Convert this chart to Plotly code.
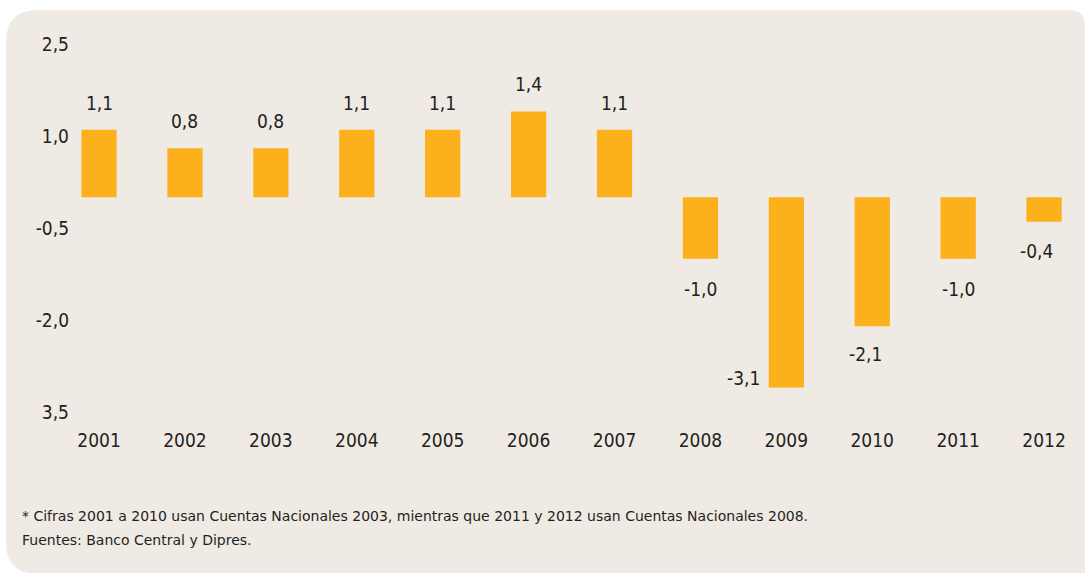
import plotly.graph_objects as go

years = ["2001", "2002", "2003", "2004", "2005", "2006", "2007", "2008", "2009", "2010", "2011", "2012"]
values = [1.1, 0.8, 0.8, 1.1, 1.1, 1.4, 1.1, -1.0, -3.1, -2.1, -1.0, -0.4]
ytick_vals = [2.5, 1.0, -0.5, -2.0, -3.5]
ytick_text = ["2,5", "1,0", "-0,5", "-2,0", "3,5"]
footnotes = [
    "* Cifras 2001 a 2010 usan Cuentas Nacionales 2003, mientras que 2011 y 2012 usan Cuentas Nacionales 2008.",
    "Fuentes: Banco Central y Dipres.",
]

W, H = 1085, 573
L, R, T, B = 70, 1075, 44, 412
BAR = "#fcb01b"
BG = "#f0eae4"
TXT = "#231f20"
FONT = "Liberation Sans Narrow, DejaVu Sans Condensed, Arial Narrow, sans-serif"
FSIZE = 19

def px(x):
    return (x - L) / (R - L)

def py(y):
    return (B - y) / (B - T)

# label offsets (pixels) for individual labels: (xshift, yshift)
label_shift = {"2009": (-43, 9), "2010": (-7, -28), "2012": (-8, -29)}

fig = go.Figure()
fig.add_trace(go.Bar(
    x=list(range(len(years))), y=values, marker_color=BAR, width=0.41,
    marker_line_width=0, hoverinfo="skip",
))

annotations = []
for i, (yr, v) in enumerate(zip(years, values)):
    xs, ys = label_shift.get(yr, (0, 27 if v >= 0 else -30))
    annotations.append(dict(
        x=i, y=v, xref="x", yref="y", text=f"{v:.1f}".replace(".", ","),
        showarrow=False, xshift=xs, yshift=ys,
        font=dict(family=FONT, size=FSIZE, color=TXT),
    ))

for j, line in enumerate(footnotes):
    annotations.append(dict(
        x=px(20), y=py(516 + 24 * j), xref="paper", yref="paper", text=line,
        showarrow=False, xanchor="left", yanchor="middle",
        font=dict(family="DejaVu Sans, sans-serif", size=14, color=TXT),
    ))

# rounded panel background
x0, x1, y0, y1 = 6, 1085, 10, 574
rtl, rtr, rbl = 32, 16, 32
path = (
    f"M {px(x0)},{py(y0 + rtl)} "
    f"Q {px(x0)},{py(y0)} {px(x0 + rtl)},{py(y0)} "
    f"L {px(x1 - rtr)},{py(y0)} "
    f"Q {px(x1)},{py(y0)} {px(x1)},{py(y0 + rtr)} "
    f"L {px(x1)},{py(y1)} "
    f"L {px(x0 + rbl)},{py(y1)} "
    f"Q {px(x0)},{py(y1)} {px(x0)},{py(y1 - rbl)} Z"
)

fig.update_layout(
    width=W, height=H,
    margin=dict(l=L, r=W - R, t=T, b=H - B),
    paper_bgcolor="white", plot_bgcolor="rgba(0,0,0,0)",
    showlegend=False,
    annotations=annotations,
    shapes=[dict(type="path", path=path, xref="paper", yref="paper",
                 fillcolor=BG, line=dict(width=0), layer="below")],
    xaxis=dict(
        tickmode="array", tickvals=list(range(len(years))), ticktext=years,
        range=[-0.338, 11.36], showgrid=False, zeroline=False, showline=False,
        ticks="", ticklabelstandoff=15,
        tickfont=dict(family=FONT, size=FSIZE, color=TXT), fixedrange=True,
    ),
    yaxis=dict(
        range=[-3.5, 2.5], tickmode="array", tickvals=ytick_vals, ticktext=ytick_text,
        showgrid=False, zeroline=False, showline=False, ticks="",
        tickfont=dict(family=FONT, size=FSIZE, color=TXT), fixedrange=True,
    ),
)

fig.write_html("out.html", config={"displayModeBar": False},
               post_script="document.body.style.margin='0';")
